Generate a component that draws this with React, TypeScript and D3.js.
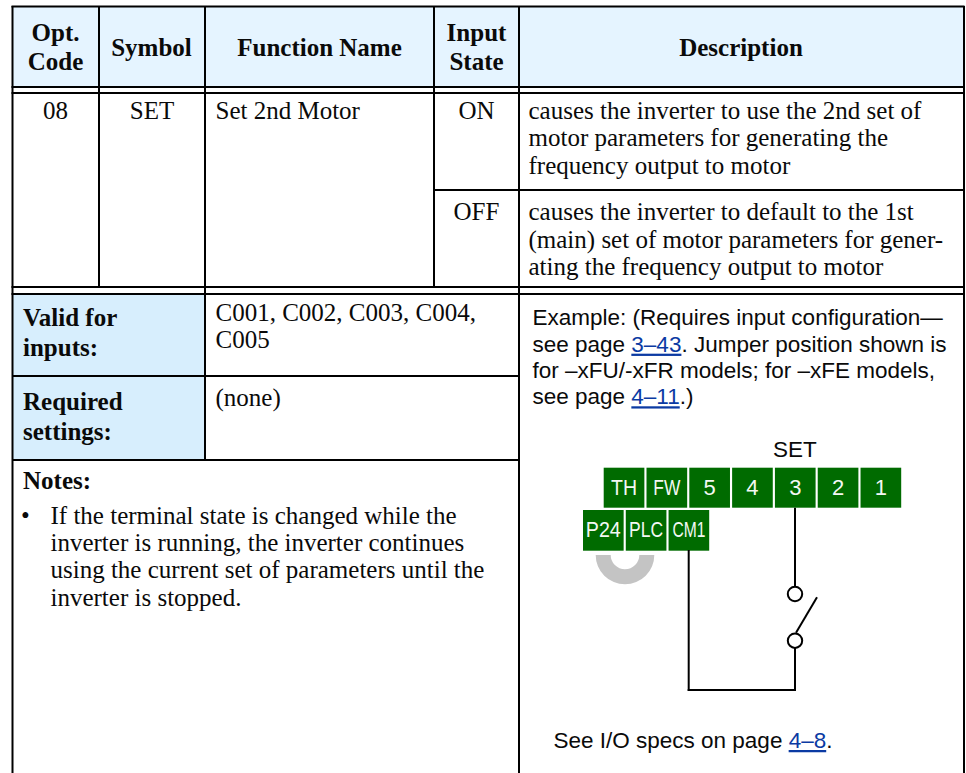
import React from "react";
import * as d3 from "d3";

const headerLabels = [["Opt.", "Code"], ["Symbol"], ["Function Name"], ["Input", "State"], ["Description"]];
const rowValues = ["08", "SET", "Set 2nd Motor"];
const stateLabels = ["ON", "OFF"];
const onDescription = ["causes the inverter to use the 2nd set of", "motor parameters for generating the", "frequency output to motor"];
const offDescription = ["causes the inverter to default to the 1st", "(main) set of motor parameters for gener-", "ating the frequency output to motor"];
const validLabel = ["Valid for", "inputs:"];
const validValue = ["C001, C002, C003, C004,", "C005"];
const requiredLabel = ["Required", "settings:"];
const requiredValue = ["(none)"];
const notesBody = ["If the terminal state is changed while the", "inverter is running, the inverter continues", "using the current set of parameters until the", "inverter is stopped."];
const topTerminals = ["TH", "FW", "5", "4", "3", "2", "1"];
const bottomTerminals = ["P24", "PLC", "CM1"];

const SERIF = "'Liberation Serif', serif";
const SANS = "'Liberation Sans', sans-serif";
const HEAD_FILL = "#e5f4ff";
const SIDE_FILL = "#d7eefd";
const GREEN = "#006b00";
const LINK = "#0b3aa3";
const INK = "#0a0a0a";
const SZ = 25;
const SS = 22.5;
const squeeze: Record<string, number> = { TH: 26, FW: 27, P24: 35, PLC: 34, CM1: 33 };

const T = ({ x, y, children, anchor = "start", bold = false, size = SZ, font = SERIF, fill = INK, len }: any) => (
  <text x={x} y={y} textAnchor={anchor} fontFamily={font} fontSize={size} fontWeight={bold ? 700 : 400} fill={fill}
    {...(len ? { textLength: len, lengthAdjust: "spacingAndGlyphs" } : {})}>{children}</text>
);

const L = ({ x1, y1, x2, y2, w = 2, stroke = "#000" }: any) => <line x1={x1} y1={y1} x2={x2} y2={y2} stroke={stroke} strokeWidth={w} />;

export default function App() {
  const lines = (arr: string[], x: number, y0: number, step: number, props: any = {}) =>
    arr.map((s, i) => <T key={s} x={x} y={y0 + i * step} {...props}>{s}</T>);

  const topX = d3.scaleBand().domain(topTerminals).range([603.7, 901.2]).paddingInner(0.05).paddingOuter(0);
  const botX = d3.scaleBand().domain(bottomTerminals).range([583, 709.2]).paddingInner(0.05).paddingOuter(0);
  const jumper = d3.arc()({ innerRadius: 14.3, outerRadius: 29.3, startAngle: Math.PI / 2, endAngle: Math.PI * 1.5 } as any) as string;

  return (
    <svg width={966} height={773} style={{ position: "absolute", left: 0, top: 0, display: "block" }}>
      <rect x={0} y={0} width={966} height={773} fill="#fff" />
      <rect x={12.5} y={6} width={951} height={81} fill={HEAD_FILL} />
      <rect x={12.5} y={294} width={192.5} height={166} fill={SIDE_FILL} />

      {/* horizontal rules */}
      <L x1={11.5} y1={6.5} x2={964.5} y2={6.5} />
      <L x1={11.5} y1={87} x2={964.5} y2={87} />
      <L x1={11.5} y1={93} x2={964.5} y2={93} />
      <L x1={434} y1={190} x2={964.5} y2={190} />
      <L x1={11.5} y1={287} x2={964.5} y2={287} />
      <L x1={11.5} y1={294} x2={964.5} y2={294} />
      <L x1={12.5} y1={376} x2={519} y2={376} />
      <L x1={12.5} y1={460} x2={519} y2={460} />

      {/* verticals */}
      <L x1={12.5} y1={6} x2={12.5} y2={773} />
      <L x1={964} y1={6} x2={964} y2={773} />
      <L x1={99} y1={6} x2={99} y2={287} />
      <L x1={205} y1={6} x2={205} y2={460} />
      <L x1={434} y1={6} x2={434} y2={287} />
      <L x1={519} y1={6} x2={519} y2={773} />

      {/* header */}
      {lines(headerLabels[0], 55.5, 40.5, 29, { anchor: "middle", bold: true })}
      <T x={151.5} y={55.5} anchor="middle" bold>{headerLabels[1][0]}</T>
      <T x={319.5} y={55.5} anchor="middle" bold>{headerLabels[2][0]}</T>
      {lines(headerLabels[3], 476.5, 40.5, 29, { anchor: "middle", bold: true })}
      <T x={741} y={55.5} anchor="middle" bold>{headerLabels[4][0]}</T>

      {/* body */}
      <T x={55.5} y={118.5} anchor="middle">{rowValues[0]}</T>
      <T x={152} y={118.5} anchor="middle">{rowValues[1]}</T>
      <T x={215.5} y={118.5}>{rowValues[2]}</T>
      <T x={476.5} y={118.5} anchor="middle">{stateLabels[0]}</T>
      <T x={476.5} y={220} anchor="middle">{stateLabels[1]}</T>
      {lines(onDescription, 528.5, 118.5, 27.5)}
      {lines(offDescription, 528.5, 220, 27.5)}

      {/* lower left */}
      {lines(validLabel, 23, 326, 30, { bold: true })}
      {lines(validValue, 215.5, 321, 27)}
      {lines(requiredLabel, 23, 410, 30, { bold: true })}
      {lines(requiredValue, 215.5, 406, 27)}
      <T x={23} y={489} bold>Notes:</T>
      <T x={21} y={523.5}>•</T>
      {lines(notesBody, 50.5, 523.5, 27.4)}

      {/* example text */}
      <T x={532.5} y={325} font={SANS} size={SS}>Example: (Requires input configuration—</T>
      <text x={532.5} y={351.7} fontFamily={SANS} fontSize={SS} fill={INK}>
        see page <tspan fill={LINK} textDecoration="underline">3–43</tspan>. Jumper position shown is
      </text>
      <T x={532.5} y={378} font={SANS} size={SS}>for –xFU/-xFR models; for –xFE models,</T>
      <text x={532.5} y={404.3} fontFamily={SANS} fontSize={SS} fill={INK}>
        see page <tspan fill={LINK} textDecoration="underline">4–11</tspan>.)
      </text>
      <text x={553.5} y={748} fontFamily={SANS} fontSize={SS} fill={INK}>
        See I/O specs on page <tspan fill={LINK} textDecoration="underline">4–8</tspan>.
      </text>

      {/* wiring diagram */}
      <T x={795} y={456.5} anchor="middle" font={SANS} size={SS}>SET</T>
      <path d={jumper} transform="translate(625,555)" fill="#c4c4c4" />
      {topTerminals.map((t) => (
        <g key={t}>
          <rect x={topX(t)} y={467.7} width={topX.bandwidth()} height={40} fill={GREEN} />
          <T x={topX(t)! + topX.bandwidth() / 2} y={495} anchor="middle" font={SANS} size={22} fill="#f4f8f4" len={squeeze[t]}>{t}</T>
        </g>
      ))}
      {bottomTerminals.map((t) => (
        <g key={t}>
          <rect x={botX(t)} y={510} width={botX.bandwidth()} height={40.7} fill={GREEN} />
          <T x={botX(t)! + botX.bandwidth() / 2} y={537} anchor="middle" font={SANS} size={22} fill="#f4f8f4" len={squeeze[t]}>{t}</T>
        </g>
      ))}
      <L x1={795} y1={507.7} x2={795} y2={586.7} />
      <circle cx={795} cy={594} r={7.2} fill="#fff" stroke="#000" strokeWidth={2} />
      <circle cx={795} cy={640.7} r={7.2} fill="#fff" stroke="#000" strokeWidth={2} />
      <L x1={796} y1={632.7} x2={817} y2={597.3} />
      <L x1={795} y1={648} x2={795} y2={691} />
      <L x1={688.7} y1={550} x2={688.7} y2={691} />
      <L x1={687.7} y1={690} x2={796} y2={690} />
    </svg>
  );
}
